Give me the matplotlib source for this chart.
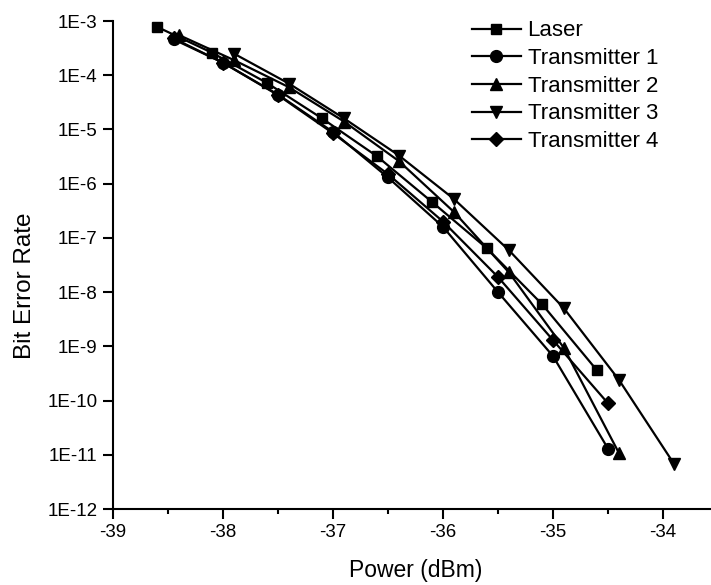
import matplotlib
matplotlib.use("Agg")
import matplotlib.pyplot as plt
import matplotlib.ticker as ticker
import numpy as np

plt.rcParams['font.family'] = ['Liberation Sans', 'DejaVu Sans']

# values
laser_x = [-38.6, -38.1, -37.6, -37.1, -36.6, -36.1, -35.6, -35.1, -34.6]
laser_y = [7.8e-4, 2.6e-4, 7.2e-5, 1.6e-5, 3.2e-6, 4.6e-7, 6.4e-8, 6e-9, 3.6e-10]

tx1_x = [-38.45, -38.0, -37.5, -37.0, -36.5, -36.0, -35.5, -35.0, -34.5]
tx1_y = [4.6e-4, 1.7e-4, 4.4e-5, 9e-6, 1.3e-6, 1.6e-7, 1e-8, 6.6e-10, 1.3e-11]

tx2_x = [-38.4, -37.9, -37.4, -36.9, -36.4, -35.9, -35.4, -34.9, -34.4]
tx2_y = [5.5e-4, 1.9e-4, 6e-5, 1.4e-5, 2.6e-6, 3e-7, 2.3e-8, 9.3e-10, 1.07e-11]

tx3_x = [-37.9, -37.4, -36.9, -36.4, -35.9, -35.4, -34.9, -34.4, -33.9]
tx3_y = [2.5e-4, 7e-5, 1.6e-5, 3.3e-6, 5.2e-7, 5.9e-8, 5e-9, 2.4e-10, 6.8e-12]

tx4_x = [-38.45, -38.0, -37.5, -37.0, -36.5, -36.0, -35.5, -35.0, -34.5]
tx4_y = [4.8e-4, 1.7e-4, 4.3e-5, 8.5e-6, 1.5e-6, 2e-7, 1.9e-8, 1.3e-9, 8.9e-11]

yticks = [1e-3, 1e-4, 1e-5, 1e-6, 1e-7, 1e-8, 1e-9, 1e-10, 1e-11, 1e-12]
ytick_labels = ["1E-3", "1E-4", "1E-5", "1E-6", "1E-7", "1E-8", "1E-9", "1E-10", "1E-11", "1E-12"]
xticks = [-39, -38, -37, -36, -35, -34]

fig = plt.figure(figsize=(7.11, 5.85), dpi=100)
ax = fig.add_axes([113/711, 76/585, 605/711, 488/585])

ax.plot(laser_x, laser_y, "s-", color="black", lw=1.6, ms=7.5, label="Laser")
ax.plot(tx1_x, tx1_y, "o-", color="black", lw=1.6, ms=8.5, label="Transmitter 1")
ax.plot(tx2_x, tx2_y, "^-", color="black", lw=1.6, ms=9, label="Transmitter 2")
ax.plot(tx3_x, tx3_y, "v-", color="black", lw=1.6, ms=9, label="Transmitter 3")
ax.plot(tx4_x, tx4_y, "D-", color="black", lw=1.6, ms=7.5, label="Transmitter 4")

ax.set_yscale("log")
ax.set_xlim(-39, -33.5)
ax.set_ylim(1e-12, 1e-3)
ax.set_yticks(yticks)
ax.set_yticklabels(ytick_labels)
ax.yaxis.set_minor_locator(ticker.NullLocator())
ax.set_xticks(xticks)
ax.set_xticklabels([str(v) for v in xticks])
ax.xaxis.set_minor_locator(ticker.MultipleLocator(0.5))

for s in ["top", "right"]:
    ax.spines[s].set_visible(False)
for s in ["left", "bottom"]:
    ax.spines[s].set_linewidth(1.5)
ax.tick_params(which="major", direction="out", length=7, width=1.5, labelsize=13.5, pad=4)
ax.tick_params(which="minor", direction="out", length=3.5, width=1.5)

ax.set_xlabel("Power (dBm)", fontsize=16.5, va="center", ha="center")
ax.xaxis.set_label_coords(0.5, -0.125)
ax.set_ylabel("Bit Error Rate", fontsize=17.5, va="center", ha="center")
ax.yaxis.set_label_coords(-0.145, 0.457)

ax.legend(loc="upper left", bbox_to_anchor=(0.575, 1.024), frameon=False, fontsize=16,
          handlelength=2.2, handletextpad=0.3, labelspacing=0.3, borderpad=0)

fig.savefig("out.png", dpi=100)
